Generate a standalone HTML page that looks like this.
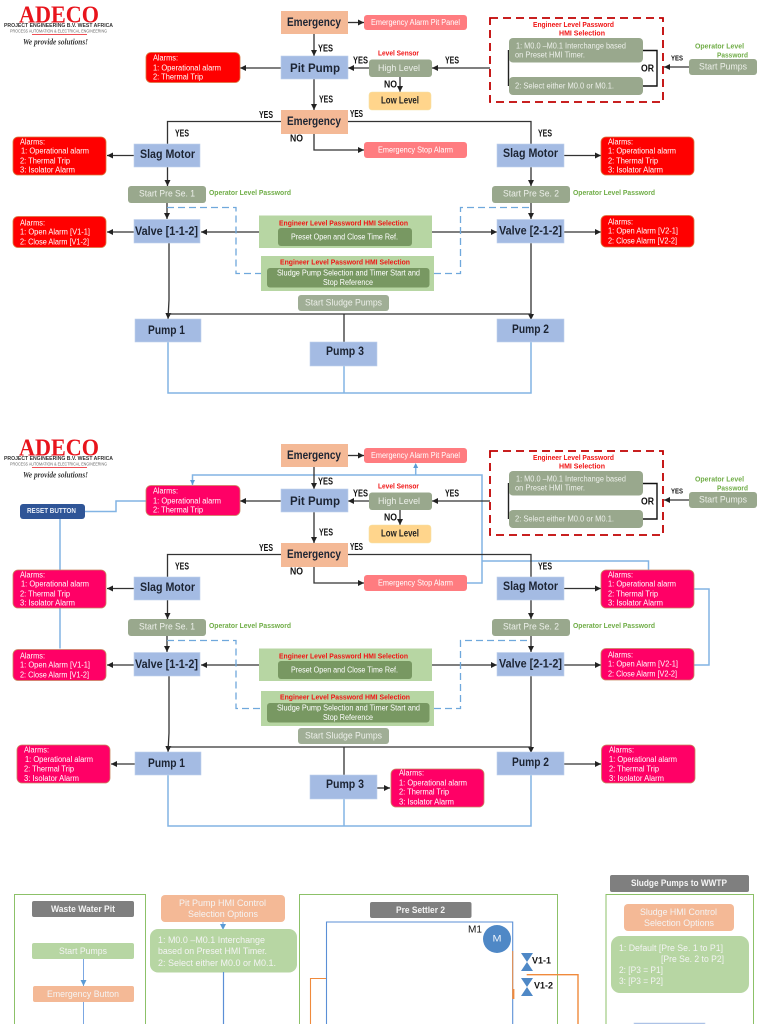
<!DOCTYPE html>
<html><head><meta charset="utf-8"><title>ADECO control flow</title>
<style>
html,body{margin:0;padding:0;background:#fff;width:768px;height:1024px;overflow:hidden}
svg{display:block;filter:blur(.25px)}
text{font-family:"Liberation Sans",sans-serif;dominant-baseline:central;white-space:pre}
.d{font-size:12px;font-weight:700;fill:#1c2433;text-anchor:start}
.a{font-size:8px;fill:#fff}
.g{font-size:9.5px;fill:#edf0ea}
.s{font-size:8px;fill:#edf0ea}
.y{font-size:10px;font-weight:700;fill:#111}
.rt{font-size:7.5px;font-weight:700;fill:#f01414}
.gt{font-size:7.5px;font-weight:700;fill:#70ad47}
.b{fill:#a4bbe3;stroke:#c2d1ec;stroke-width:.6}
.o{fill:#f4b996}
.gr{fill:#99a88d}
.lg{fill:#b7d6a3}
.dg{fill:#789862}
.gy{fill:#7f7f7f}
.w{font-size:9px;font-weight:700;fill:#f4f4f4}
.p{fill:#ff7c80}
.r{fill:#f00;stroke:#d9773f;stroke-width:.8}
.m{fill:#ff0066;stroke:#c9855f;stroke-width:.8}
.k{fill:none;stroke:#333;stroke-width:1.3}
.bl{fill:none;stroke:#82b4e4;stroke-width:1.5}
.bd{fill:none;stroke:#6fa8dc;stroke-width:1.3;stroke-dasharray:7 4}
.pn{fill:none;stroke:#8cc168;stroke-width:1}
.lo{font-family:"Liberation Serif",serif;font-size:24px;font-weight:700;fill:#e8141c}
</style></head><body>
<svg xmlns="http://www.w3.org/2000/svg" width="768" height="1024" viewBox="0 0 768 1024">
<defs>
<marker id="h" markerUnits="userSpaceOnUse" markerWidth="7" markerHeight="7" refX="6" refY="3" orient="auto"><path d="M0 0L6 3L0 6z" fill="#222"/></marker>
<marker id="bh" markerUnits="userSpaceOnUse" markerWidth="7" markerHeight="7" refX="6" refY="3" orient="auto"><path d="M0 0L6 3L0 6z" fill="#5b9bd5"/></marker>
</defs>

<!-- FLOW 1 -->
<g>
<text class="lo" x="19" y="15.5" textLength="80" lengthAdjust="spacingAndGlyphs">ADECO</text>
<text x="4" y="26" textLength="109" lengthAdjust="spacingAndGlyphs" style="font-size:5.5px;font-weight:700;fill:#333">PROJECT ENGINEERING B.V. WEST AFRICA</text>
<text x="10" y="31" textLength="97" lengthAdjust="spacingAndGlyphs" style="font-size:4.5px;fill:#666">PROCESS AUTOMATION &amp; ELECTRICAL ENGINEERING</text>
<path d="M32 34.5H87" stroke="#e8141c" stroke-width=".8"/>
<text x="23" y="42" textLength="65" lengthAdjust="spacingAndGlyphs" style="font-family:'Liberation Serif',serif;font-size:8px;font-style:italic;font-weight:700;fill:#333">We provide solutions!</text>

<path class="k" d="M348 22.5H364" marker-end="url(#h)"/>
<path class="k" d="M314 34V56" marker-end="url(#h)"/>
<path class="k" d="M281 68H240" marker-end="url(#h)"/>
<path class="k" d="M369 68H348" marker-end="url(#h)"/>
<path class="k" d="M400 77V92" marker-end="url(#h)"/>
<path class="k" d="M490 68H432" marker-end="url(#h)"/>
<path class="k" d="M689 67H664" marker-end="url(#h)"/>
<path class="k" d="M314 79V110" marker-end="url(#h)"/>
<path class="k" d="M281 121.5H167.5V144"/>
<path class="k" d="M348 121.5H531V144"/>
<path class="k" d="M314 134V150H364" marker-end="url(#h)"/>
<path class="k" d="M134 155.5H107" marker-end="url(#h)"/>
<path class="k" d="M564 155.5H601" marker-end="url(#h)"/>
<path class="k" d="M167.5 167V186" marker-end="url(#h)"/>
<path class="k" d="M531 167V186" marker-end="url(#h)"/>
<path class="k" d="M167 203V219" marker-end="url(#h)"/>
<path class="k" d="M531 203V219" marker-end="url(#h)"/>
<path class="k" d="M134 232H107" marker-end="url(#h)"/>
<path class="k" d="M564 232H601" marker-end="url(#h)"/>
<path class="k" d="M259 232H201" marker-end="url(#h)"/>
<path class="k" d="M432 232H497" marker-end="url(#h)"/>
<path class="k" d="M169 243V300L168 319" marker-end="url(#h)"/>
<path class="k" d="M531 243V320" marker-end="url(#h)"/>
<path class="k" d="M168 314H531"/>
<path class="k" d="M344 314V342"/>
<path class="bd" d="M167 207.5H236V273.5H261"/>
<path class="bd" d="M434 273.5H460.5V207.5H531"/>
<path class="bl" d="M168 342V393H531V342"/>
<path class="bl" d="M344 366V393"/>

<rect class="o" x="281" y="11" width="67" height="23"/><text class="d" x="287" y="22" textLength="54" lengthAdjust="spacingAndGlyphs">Emergency</text>
<rect class="p" x="364" y="15" width="103" height="15" rx="3"/><text class="a" x="371" y="22.5" textLength="89" lengthAdjust="spacingAndGlyphs">Emergency Alarm Pit Panel</text>
<text class="y" x="318" y="49" textLength="15" lengthAdjust="spacingAndGlyphs">YES</text>
<rect class="b" x="281" y="56" width="67" height="23"/><text class="d" x="290" y="68" textLength="50" lengthAdjust="spacingAndGlyphs">Pit Pump</text>
<rect class="r" x="146" y="52.5" width="94" height="30" rx="5"/>
<text class="a" x="153" y="58" textLength="25" lengthAdjust="spacingAndGlyphs">Alarms:</text>
<text class="a" x="153" y="68" textLength="68" lengthAdjust="spacingAndGlyphs">1: Operational alarm</text>
<text class="a" x="153" y="77" textLength="50" lengthAdjust="spacingAndGlyphs">2: Thermal Trip</text>
<text class="y" x="353" y="61" textLength="15" lengthAdjust="spacingAndGlyphs">YES</text>
<rect class="gr" x="369" y="59.5" width="63" height="17.5" rx="3"/><text class="g" x="378" y="68.5" textLength="42" lengthAdjust="spacingAndGlyphs">High Level</text>
<text class="rt" x="378" y="53" textLength="41" lengthAdjust="spacingAndGlyphs">Level Sensor</text>
<text class="y" x="384" y="85" textLength="13" lengthAdjust="spacingAndGlyphs">NO</text>
<rect x="369" y="92" width="62" height="18" rx="3" fill="#ffd58c" stroke="#f5e3a8" stroke-width=".6"/><text x="381" y="101" textLength="38" lengthAdjust="spacingAndGlyphs" style="font-size:10px;font-weight:700;fill:#222">Low Level</text>
<text class="y" x="445" y="61" textLength="14" lengthAdjust="spacingAndGlyphs">YES</text>
<rect x="490" y="18" width="173" height="84" fill="none" stroke="#c00000" stroke-width="1.8" stroke-dasharray="8 5"/>
<text class="rt" x="533" y="24.5" textLength="81" lengthAdjust="spacingAndGlyphs">Engineer Level Password</text>
<text class="rt" x="559" y="33" textLength="46" lengthAdjust="spacingAndGlyphs">HMI Selection</text>
<path d="M508.5 50V86" stroke="#222" stroke-width="1.4" fill="none"/>
<path d="M643 50.5H657V86H643" stroke="#111" stroke-width="1.4" fill="none"/>
<rect class="gr" x="509" y="38" width="134" height="24.5" rx="4"/>
<text class="s" x="516" y="46" textLength="110" lengthAdjust="spacingAndGlyphs">1: M0.0 –M0.1 Interchange based</text>
<text class="s" x="515" y="55" textLength="70" lengthAdjust="spacingAndGlyphs">on Preset HMI Timer.</text>
<rect class="gr" x="509" y="77" width="134" height="18" rx="4"/>
<text class="s" x="515" y="86" textLength="99" lengthAdjust="spacingAndGlyphs">2: Select either M0.0 or M0.1.</text>
<text class="y" x="641" y="69" textLength="13" lengthAdjust="spacingAndGlyphs">OR</text>
<text x="671" y="59" textLength="12" lengthAdjust="spacingAndGlyphs" style="font-size:7px;font-weight:700;fill:#111">YES</text>
<rect class="gr" x="689" y="59" width="68" height="16" rx="3"/><text class="g" x="699" y="67" textLength="48" lengthAdjust="spacingAndGlyphs">Start Pumps</text>
<text class="gt" x="695" y="46" textLength="49" lengthAdjust="spacingAndGlyphs">Operator Level</text>
<text class="gt" x="717" y="55" textLength="31" lengthAdjust="spacingAndGlyphs">Password</text>

<rect class="o" x="281" y="110" width="67" height="24"/><text class="d" x="287" y="121" textLength="54" lengthAdjust="spacingAndGlyphs">Emergency</text>
<text class="y" x="319" y="100" textLength="14" lengthAdjust="spacingAndGlyphs">YES</text>
<text class="y" x="259" y="115.5" textLength="14" lengthAdjust="spacingAndGlyphs">YES</text>
<text class="y" x="350" y="114.5" textLength="13" lengthAdjust="spacingAndGlyphs">YES</text>
<text class="y" x="175" y="134" textLength="14" lengthAdjust="spacingAndGlyphs">YES</text>
<text class="y" x="538" y="134" textLength="14" lengthAdjust="spacingAndGlyphs">YES</text>
<text class="y" x="290" y="139" textLength="13" lengthAdjust="spacingAndGlyphs">NO</text>
<rect class="p" x="364" y="142" width="103" height="16" rx="3"/><text class="a" x="378" y="150" textLength="75" lengthAdjust="spacingAndGlyphs">Emergency Stop Alarm</text>

<rect class="b" x="134" y="144" width="66" height="23"/><text class="d" x="140" y="154" textLength="55" lengthAdjust="spacingAndGlyphs">Slag Motor</text>
<rect class="r" x="13" y="137" width="93" height="38" rx="5"/>
<text class="a" x="20" y="142" textLength="25" lengthAdjust="spacingAndGlyphs">Alarms:</text>
<text class="a" x="21" y="151" textLength="68" lengthAdjust="spacingAndGlyphs">1: Operational alarm</text>
<text class="a" x="20" y="161" textLength="50" lengthAdjust="spacingAndGlyphs">2: Thermal Trip</text>
<text class="a" x="20" y="170" textLength="55" lengthAdjust="spacingAndGlyphs">3: Isolator Alarm</text>
<rect class="gr" x="128" y="186" width="78" height="17" rx="3"/><text class="g" x="139" y="194" textLength="56" lengthAdjust="spacingAndGlyphs">Start Pre Se. 1</text>
<text class="gt" x="209" y="192.5" textLength="82" lengthAdjust="spacingAndGlyphs">Operator Level Password</text>
<rect class="b" x="134" y="219.5" width="66" height="23.5"/><text class="d" x="135" y="231" textLength="63" lengthAdjust="spacingAndGlyphs">Valve [1-1-2]</text>
<rect class="r" x="13" y="216.5" width="93" height="31" rx="5"/>
<text class="a" x="20" y="223" textLength="25" lengthAdjust="spacingAndGlyphs">Alarms:</text>
<text class="a" x="20" y="232" textLength="70" lengthAdjust="spacingAndGlyphs">1: Open Alarm [V1-1]</text>
<text class="a" x="20" y="242" textLength="69" lengthAdjust="spacingAndGlyphs">2: Close Alarm [V1-2]</text>

<rect class="lg" x="259" y="215.5" width="173" height="32.5"/>
<text class="rt" x="279" y="223" textLength="129" lengthAdjust="spacingAndGlyphs">Engineer Level Password HMI Selection</text>
<rect class="dg" x="278" y="228" width="134" height="18" rx="3"/>
<text class="a" x="291" y="237" textLength="107" lengthAdjust="spacingAndGlyphs">Preset Open and Close Time Ref.</text>
<rect class="lg" x="261" y="256" width="173" height="35"/>
<text class="rt" x="280" y="262" textLength="130" lengthAdjust="spacingAndGlyphs">Engineer Level Password HMI Selection</text>
<rect class="dg" x="267" y="268" width="162.5" height="19.5" rx="3"/>
<text class="a" x="277" y="273" textLength="143" lengthAdjust="spacingAndGlyphs">Sludge Pump Selection and Timer Start and</text>
<text class="a" x="323" y="282.5" textLength="50" lengthAdjust="spacingAndGlyphs">Stop Reference</text>
<rect x="298" y="295" width="91" height="16" rx="3" fill="#a0ae96"/><text class="g" x="305" y="303" textLength="77" lengthAdjust="spacingAndGlyphs">Start Sludge Pumps</text>

<rect class="b" x="497" y="144" width="67" height="23"/><text class="d" x="503" y="153" textLength="55" lengthAdjust="spacingAndGlyphs">Slag Motor</text>
<rect class="r" x="601" y="137" width="93" height="38" rx="5"/>
<text class="a" x="608" y="142" textLength="25" lengthAdjust="spacingAndGlyphs">Alarms:</text>
<text class="a" x="608" y="151" textLength="68" lengthAdjust="spacingAndGlyphs">1: Operational alarm</text>
<text class="a" x="608" y="161" textLength="50" lengthAdjust="spacingAndGlyphs">2: Thermal Trip</text>
<text class="a" x="608" y="170" textLength="55" lengthAdjust="spacingAndGlyphs">3: Isolator Alarm</text>
<rect class="gr" x="492" y="186" width="78" height="17" rx="3"/><text class="g" x="503" y="194" textLength="56" lengthAdjust="spacingAndGlyphs">Start Pre Se. 2</text>
<text class="gt" x="573" y="192.5" textLength="82" lengthAdjust="spacingAndGlyphs">Operator Level Password</text>
<rect class="b" x="497" y="219.5" width="67" height="23.5"/><text class="d" x="499" y="230.5" textLength="63" lengthAdjust="spacingAndGlyphs">Valve [2-1-2]</text>
<rect class="r" x="601" y="215.5" width="93" height="31.5" rx="5"/>
<text class="a" x="608" y="222" textLength="25" lengthAdjust="spacingAndGlyphs">Alarms:</text>
<text class="a" x="608" y="231" textLength="70" lengthAdjust="spacingAndGlyphs">1: Open Alarm [V2-1]</text>
<text class="a" x="608" y="241" textLength="69" lengthAdjust="spacingAndGlyphs">2: Close Alarm [V2-2]</text>

<rect class="b" x="135" y="319" width="66" height="23"/><text class="d" x="148" y="330" textLength="37" lengthAdjust="spacingAndGlyphs">Pump 1</text>
<rect class="b" x="497" y="319" width="67" height="23"/><text class="d" x="512" y="329" textLength="37" lengthAdjust="spacingAndGlyphs">Pump 2</text>
<rect class="b" x="310" y="342" width="67" height="24"/><text class="d" x="326" y="351" textLength="38" lengthAdjust="spacingAndGlyphs">Pump 3</text>
</g>

<!-- FLOW 2 -->
<path class="bl" d="M146 501H116V511.5H85"/>
<path class="bl" d="M60 519V570M60 608V648.5"/>
<path class="bl" d="M192.5 485V475H482V583H467"/>
<path d="M192.5 485l-2.5-5h5z" fill="#5b9bd5"/>
<path class="bl" d="M415.7 475V464"/>
<path d="M415.7 463l-2.5 5h5z" fill="#5b9bd5"/>
<path class="bl" d="M482 561H648.5V570"/>
<path class="bl" d="M694 589H709V665H694"/>
<g transform="translate(0,433)">
<text class="lo" x="19" y="15.5" textLength="80" lengthAdjust="spacingAndGlyphs">ADECO</text>
<text x="4" y="26" textLength="109" lengthAdjust="spacingAndGlyphs" style="font-size:5.5px;font-weight:700;fill:#333">PROJECT ENGINEERING B.V. WEST AFRICA</text>
<text x="10" y="31" textLength="97" lengthAdjust="spacingAndGlyphs" style="font-size:4.5px;fill:#666">PROCESS AUTOMATION &amp; ELECTRICAL ENGINEERING</text>
<path d="M32 34.5H87" stroke="#e8141c" stroke-width=".8"/>
<text x="23" y="42" textLength="65" lengthAdjust="spacingAndGlyphs" style="font-family:'Liberation Serif',serif;font-size:8px;font-style:italic;font-weight:700;fill:#333">We provide solutions!</text>

<path class="k" d="M348 22.5H364" marker-end="url(#h)"/>
<path class="k" d="M314 34V56" marker-end="url(#h)"/>
<path class="k" d="M281 68H240" marker-end="url(#h)"/>
<path class="k" d="M369 68H348" marker-end="url(#h)"/>
<path class="k" d="M400 77V92" marker-end="url(#h)"/>
<path class="k" d="M490 68H432" marker-end="url(#h)"/>
<path class="k" d="M689 67H664" marker-end="url(#h)"/>
<path class="k" d="M314 79V110" marker-end="url(#h)"/>
<path class="k" d="M281 121.5H167.5V144"/>
<path class="k" d="M348 121.5H531V144"/>
<path class="k" d="M314 134V150H364" marker-end="url(#h)"/>
<path class="k" d="M134 155.5H107" marker-end="url(#h)"/>
<path class="k" d="M564 155.5H601" marker-end="url(#h)"/>
<path class="k" d="M167.5 167V186" marker-end="url(#h)"/>
<path class="k" d="M531 167V186" marker-end="url(#h)"/>
<path class="k" d="M167 203V219" marker-end="url(#h)"/>
<path class="k" d="M531 203V219" marker-end="url(#h)"/>
<path class="k" d="M134 232H107" marker-end="url(#h)"/>
<path class="k" d="M564 232H601" marker-end="url(#h)"/>
<path class="k" d="M259 232H201" marker-end="url(#h)"/>
<path class="k" d="M432 232H497" marker-end="url(#h)"/>
<path class="k" d="M169 243V300L168 319" marker-end="url(#h)"/>
<path class="k" d="M531 243V320" marker-end="url(#h)"/>
<path class="k" d="M168 314H531"/>
<path class="k" d="M344 314V342"/>
<path class="bd" d="M167 207.5H236V275.5H261"/>
<path class="bd" d="M434 275.5H460.5V207.5H531"/>
<path class="bl" d="M168 342V393H531V342"/>
<path class="bl" d="M344 366V393"/>
<path class="k" d="M135 331H111" marker-end="url(#h)"/>
<path class="k" d="M564 331H601" marker-end="url(#h)"/>
<path class="k" d="M377 355H390" marker-end="url(#h)"/>

<rect class="o" x="281" y="11" width="67" height="23"/><text class="d" x="287" y="22" textLength="54" lengthAdjust="spacingAndGlyphs">Emergency</text>
<rect class="p" x="364" y="15" width="103" height="15" rx="3"/><text class="a" x="371" y="22.5" textLength="89" lengthAdjust="spacingAndGlyphs">Emergency Alarm Pit Panel</text>
<text class="y" x="318" y="49" textLength="15" lengthAdjust="spacingAndGlyphs">YES</text>
<rect class="b" x="281" y="56" width="67" height="23"/><text class="d" x="290" y="68" textLength="50" lengthAdjust="spacingAndGlyphs">Pit Pump</text>
<rect class="m" x="146" y="52.5" width="94" height="30" rx="5"/>
<text class="a" x="153" y="58" textLength="25" lengthAdjust="spacingAndGlyphs">Alarms:</text>
<text class="a" x="153" y="68" textLength="68" lengthAdjust="spacingAndGlyphs">1: Operational alarm</text>
<text class="a" x="153" y="77" textLength="50" lengthAdjust="spacingAndGlyphs">2: Thermal Trip</text>
<text class="y" x="353" y="61" textLength="15" lengthAdjust="spacingAndGlyphs">YES</text>
<rect class="gr" x="369" y="59.5" width="63" height="17.5" rx="3"/><text class="g" x="378" y="68.5" textLength="42" lengthAdjust="spacingAndGlyphs">High Level</text>
<text class="rt" x="378" y="53" textLength="41" lengthAdjust="spacingAndGlyphs">Level Sensor</text>
<text class="y" x="384" y="85" textLength="13" lengthAdjust="spacingAndGlyphs">NO</text>
<rect x="369" y="92" width="62" height="18" rx="3" fill="#ffd58c" stroke="#f5e3a8" stroke-width=".6"/><text x="381" y="101" textLength="38" lengthAdjust="spacingAndGlyphs" style="font-size:10px;font-weight:700;fill:#222">Low Level</text>
<text class="y" x="445" y="61" textLength="14" lengthAdjust="spacingAndGlyphs">YES</text>
<rect x="490" y="18" width="173" height="84" fill="none" stroke="#c00000" stroke-width="1.8" stroke-dasharray="8 5"/>
<text class="rt" x="533" y="24.5" textLength="81" lengthAdjust="spacingAndGlyphs">Engineer Level Password</text>
<text class="rt" x="559" y="33" textLength="46" lengthAdjust="spacingAndGlyphs">HMI Selection</text>
<path d="M508.5 50V86" stroke="#222" stroke-width="1.4" fill="none"/>
<path d="M643 50.5H657V86H643" stroke="#111" stroke-width="1.4" fill="none"/>
<rect class="gr" x="509" y="38" width="134" height="24.5" rx="4"/>
<text class="s" x="516" y="46" textLength="110" lengthAdjust="spacingAndGlyphs">1: M0.0 –M0.1 Interchange based</text>
<text class="s" x="515" y="55" textLength="70" lengthAdjust="spacingAndGlyphs">on Preset HMI Timer.</text>
<rect class="gr" x="509" y="77" width="134" height="18" rx="4"/>
<text class="s" x="515" y="86" textLength="99" lengthAdjust="spacingAndGlyphs">2: Select either M0.0 or M0.1.</text>
<text class="y" x="641" y="69" textLength="13" lengthAdjust="spacingAndGlyphs">OR</text>
<text x="671" y="59" textLength="12" lengthAdjust="spacingAndGlyphs" style="font-size:7px;font-weight:700;fill:#111">YES</text>
<rect class="gr" x="689" y="59" width="68" height="16" rx="3"/><text class="g" x="699" y="67" textLength="48" lengthAdjust="spacingAndGlyphs">Start Pumps</text>
<text class="gt" x="695" y="46" textLength="49" lengthAdjust="spacingAndGlyphs">Operator Level</text>
<text class="gt" x="717" y="55" textLength="31" lengthAdjust="spacingAndGlyphs">Password</text>

<rect class="o" x="281" y="110" width="67" height="24"/><text class="d" x="287" y="121" textLength="54" lengthAdjust="spacingAndGlyphs">Emergency</text>
<text class="y" x="319" y="100" textLength="14" lengthAdjust="spacingAndGlyphs">YES</text>
<text class="y" x="259" y="115.5" textLength="14" lengthAdjust="spacingAndGlyphs">YES</text>
<text class="y" x="350" y="114.5" textLength="13" lengthAdjust="spacingAndGlyphs">YES</text>
<text class="y" x="175" y="134" textLength="14" lengthAdjust="spacingAndGlyphs">YES</text>
<text class="y" x="538" y="134" textLength="14" lengthAdjust="spacingAndGlyphs">YES</text>
<text class="y" x="290" y="139" textLength="13" lengthAdjust="spacingAndGlyphs">NO</text>
<rect class="p" x="364" y="142" width="103" height="16" rx="3"/><text class="a" x="378" y="150" textLength="75" lengthAdjust="spacingAndGlyphs">Emergency Stop Alarm</text>

<rect class="b" x="134" y="144" width="66" height="23"/><text class="d" x="140" y="154" textLength="55" lengthAdjust="spacingAndGlyphs">Slag Motor</text>
<rect class="m" x="13" y="137" width="93" height="38" rx="5"/>
<text class="a" x="20" y="142" textLength="25" lengthAdjust="spacingAndGlyphs">Alarms:</text>
<text class="a" x="21" y="151" textLength="68" lengthAdjust="spacingAndGlyphs">1: Operational alarm</text>
<text class="a" x="20" y="161" textLength="50" lengthAdjust="spacingAndGlyphs">2: Thermal Trip</text>
<text class="a" x="20" y="170" textLength="55" lengthAdjust="spacingAndGlyphs">3: Isolator Alarm</text>
<rect class="gr" x="128" y="186" width="78" height="17" rx="3"/><text class="g" x="139" y="194" textLength="56" lengthAdjust="spacingAndGlyphs">Start Pre Se. 1</text>
<text class="gt" x="209" y="192.5" textLength="82" lengthAdjust="spacingAndGlyphs">Operator Level Password</text>
<rect class="b" x="134" y="219.5" width="66" height="23.5"/><text class="d" x="135" y="231" textLength="63" lengthAdjust="spacingAndGlyphs">Valve [1-1-2]</text>
<rect class="m" x="13" y="216.5" width="93" height="31" rx="5"/>
<text class="a" x="20" y="223" textLength="25" lengthAdjust="spacingAndGlyphs">Alarms:</text>
<text class="a" x="20" y="232" textLength="70" lengthAdjust="spacingAndGlyphs">1: Open Alarm [V1-1]</text>
<text class="a" x="20" y="242" textLength="69" lengthAdjust="spacingAndGlyphs">2: Close Alarm [V1-2]</text>

<rect class="lg" x="259" y="215.5" width="173" height="32.5"/>
<text class="rt" x="279" y="223" textLength="129" lengthAdjust="spacingAndGlyphs">Engineer Level Password HMI Selection</text>
<rect class="dg" x="278" y="228" width="134" height="18" rx="3"/>
<text class="a" x="291" y="237" textLength="107" lengthAdjust="spacingAndGlyphs">Preset Open and Close Time Ref.</text>
<rect class="lg" x="261" y="258" width="173" height="35"/>
<text class="rt" x="280" y="264" textLength="130" lengthAdjust="spacingAndGlyphs">Engineer Level Password HMI Selection</text>
<rect class="dg" x="267" y="270" width="162.5" height="19.5" rx="3"/>
<text class="a" x="277" y="275" textLength="143" lengthAdjust="spacingAndGlyphs">Sludge Pump Selection and Timer Start and</text>
<text class="a" x="323" y="284.5" textLength="50" lengthAdjust="spacingAndGlyphs">Stop Reference</text>
<rect x="298" y="295" width="91" height="16" rx="3" fill="#a0ae96"/><text class="g" x="305" y="303" textLength="77" lengthAdjust="spacingAndGlyphs">Start Sludge Pumps</text>

<rect class="b" x="497" y="144" width="67" height="23"/><text class="d" x="503" y="153" textLength="55" lengthAdjust="spacingAndGlyphs">Slag Motor</text>
<rect class="m" x="601" y="137" width="93" height="38" rx="5"/>
<text class="a" x="608" y="142" textLength="25" lengthAdjust="spacingAndGlyphs">Alarms:</text>
<text class="a" x="608" y="151" textLength="68" lengthAdjust="spacingAndGlyphs">1: Operational alarm</text>
<text class="a" x="608" y="161" textLength="50" lengthAdjust="spacingAndGlyphs">2: Thermal Trip</text>
<text class="a" x="608" y="170" textLength="55" lengthAdjust="spacingAndGlyphs">3: Isolator Alarm</text>
<rect class="gr" x="492" y="186" width="78" height="17" rx="3"/><text class="g" x="503" y="194" textLength="56" lengthAdjust="spacingAndGlyphs">Start Pre Se. 2</text>
<text class="gt" x="573" y="192.5" textLength="82" lengthAdjust="spacingAndGlyphs">Operator Level Password</text>
<rect class="b" x="497" y="219.5" width="67" height="23.5"/><text class="d" x="499" y="230.5" textLength="63" lengthAdjust="spacingAndGlyphs">Valve [2-1-2]</text>
<rect class="m" x="601" y="215.5" width="93" height="31.5" rx="5"/>
<text class="a" x="608" y="222" textLength="25" lengthAdjust="spacingAndGlyphs">Alarms:</text>
<text class="a" x="608" y="231" textLength="70" lengthAdjust="spacingAndGlyphs">1: Open Alarm [V2-1]</text>
<text class="a" x="608" y="241" textLength="69" lengthAdjust="spacingAndGlyphs">2: Close Alarm [V2-2]</text>

<rect class="b" x="135" y="319" width="66" height="23"/><text class="d" x="148" y="330" textLength="37" lengthAdjust="spacingAndGlyphs">Pump 1</text>
<rect class="b" x="497" y="319" width="67" height="23"/><text class="d" x="512" y="329" textLength="37" lengthAdjust="spacingAndGlyphs">Pump 2</text>
<rect class="b" x="310" y="342" width="67" height="24"/><text class="d" x="326" y="351" textLength="38" lengthAdjust="spacingAndGlyphs">Pump 3</text>

<rect class="m" x="17" y="312" width="93" height="38" rx="5"/>
<text class="a" x="24" y="317" textLength="25" lengthAdjust="spacingAndGlyphs">Alarms:</text>
<text class="a" x="25" y="326.5" textLength="68" lengthAdjust="spacingAndGlyphs">1: Operational alarm</text>
<text class="a" x="24" y="336" textLength="50" lengthAdjust="spacingAndGlyphs">2: Thermal Trip</text>
<text class="a" x="24" y="345.5" textLength="55" lengthAdjust="spacingAndGlyphs">3: Isolator Alarm</text>
<rect class="m" x="601.5" y="312" width="93.5" height="38" rx="5"/>
<text class="a" x="609" y="317" textLength="25" lengthAdjust="spacingAndGlyphs">Alarms:</text>
<text class="a" x="609" y="326.5" textLength="68" lengthAdjust="spacingAndGlyphs">1: Operational alarm</text>
<text class="a" x="609" y="336" textLength="50" lengthAdjust="spacingAndGlyphs">2: Thermal Trip</text>
<text class="a" x="609" y="345.5" textLength="55" lengthAdjust="spacingAndGlyphs">3: Isolator Alarm</text>
<rect class="m" x="391" y="336" width="93" height="38" rx="5"/>
<text class="a" x="399" y="340" textLength="25" lengthAdjust="spacingAndGlyphs">Alarms:</text>
<text class="a" x="399" y="350" textLength="68" lengthAdjust="spacingAndGlyphs">1: Operational alarm</text>
<text class="a" x="399" y="359" textLength="50" lengthAdjust="spacingAndGlyphs">2: Thermal Trip</text>
<text class="a" x="399" y="369" textLength="55" lengthAdjust="spacingAndGlyphs">3: Isolator Alarm</text>
</g>
<rect x="20" y="504" width="65" height="15" rx="3" fill="#2f5597"/>
<text x="27" y="511.5" textLength="49" lengthAdjust="spacingAndGlyphs" style="font-size:7px;font-weight:700;fill:#e8eef8">RESET BUTTON</text>

<!-- BOTTOM -->
<rect class="pn" x="14.5" y="894.5" width="131" height="140"/>
<rect class="gy" x="32" y="901" width="102" height="16" rx="2"/><text class="w" x="51" y="909" textLength="64" lengthAdjust="spacingAndGlyphs">Waste Water Pit</text>
<rect class="lg" x="32" y="943" width="102" height="16" rx="2"/><text class="w" x="59" y="951" textLength="48" lengthAdjust="spacingAndGlyphs" style="font-weight:400">Start Pumps</text>
<path d="M83.5 959V986" stroke="#6d9edf" stroke-width=".9" fill="none" marker-end="url(#bh)"/>
<rect class="o" x="33" y="986" width="101" height="16" rx="2"/><text class="w" x="47" y="994" textLength="72" lengthAdjust="spacingAndGlyphs" style="font-weight:400">Emergency Button</text>
<path d="M83.5 1002V1024" stroke="#6d9edf" stroke-width=".9"/>

<rect class="o" x="161" y="895" width="124" height="27" rx="4"/>
<text class="w" x="179" y="903" textLength="87" lengthAdjust="spacingAndGlyphs" style="font-weight:400">Pit Pump HMI Control</text>
<text class="w" x="188" y="914" textLength="70" lengthAdjust="spacingAndGlyphs" style="font-weight:400">Selection Options</text>
<path d="M223 922V930" stroke="#6d9edf" stroke-width="1" marker-end="url(#bh)"/>
<rect class="lg" x="150" y="929" width="147" height="43.5" rx="8"/>
<text class="w" x="158" y="940" textLength="107" lengthAdjust="spacingAndGlyphs" style="font-weight:400">1: M0.0 –M0.1 Interchange</text>
<text class="w" x="158" y="951" textLength="109" lengthAdjust="spacingAndGlyphs" style="font-weight:400">based on Preset HMI Timer.</text>
<text class="w" x="158" y="963" textLength="118" lengthAdjust="spacingAndGlyphs" style="font-weight:400">2: Select either M0.0 or M0.1.</text>
<path d="M223.5 972V1024" stroke="#5b8fd6" stroke-width="1.2"/>

<rect class="pn" x="299.5" y="894.5" width="258" height="140"/>
<rect class="gy" x="370" y="902" width="101.5" height="16" rx="2"/><text class="w" x="396" y="910" textLength="49" lengthAdjust="spacingAndGlyphs">Pre Settler 2</text>
<path d="M326.5 1024V922H512.7V1024" fill="none" stroke="#5b8fd6" stroke-width="1.1"/>
<path d="M326 978.5H310.5V1024" fill="none" stroke="#f08a3c" stroke-width="1.1"/>
<path d="M512.7 951V999" stroke="#f08a3c" stroke-width="1"/>
<path d="M513.5 989V999" stroke="#f08a3c" stroke-width="1.8"/>
<circle cx="497" cy="939" r="14" fill="#4f88c6"/>
<text x="492.5" y="938.5" textLength="9" lengthAdjust="spacingAndGlyphs" style="font-size:9px;fill:#eaf2fb">M</text>
<text x="468" y="930" textLength="14" lengthAdjust="spacingAndGlyphs" style="font-size:10px;fill:#111">M1</text>
<path d="M521 953H533L527 962L533 971H521L527 962z" fill="#4f88c6"/>
<text x="532" y="961" textLength="19" lengthAdjust="spacingAndGlyphs" style="font-size:9.5px;font-weight:700;fill:#111">V1-1</text>
<path d="M521 978H533L527 987L533 996H521L527 987z" fill="#4f88c6"/>
<text x="534" y="986" textLength="19" lengthAdjust="spacingAndGlyphs" style="font-size:9.5px;font-weight:700;fill:#111">V1-2</text>
<path d="M526.7 974.7H578V1024" fill="none" stroke="#f08a3c" stroke-width="1.4"/>

<rect class="gy" x="610" y="875" width="139" height="17" rx="2"/><text class="w" x="631" y="883" textLength="96" lengthAdjust="spacingAndGlyphs">Sludge Pumps to WWTP</text>
<rect class="pn" x="606" y="894.5" width="147.5" height="140"/>
<rect class="o" x="624" y="904" width="110" height="27" rx="4"/>
<text class="w" x="640" y="912" textLength="77" lengthAdjust="spacingAndGlyphs" style="font-weight:400">Sludge HMI Control</text>
<text class="w" x="644" y="923" textLength="70" lengthAdjust="spacingAndGlyphs" style="font-weight:400">Selection Options</text>
<rect class="lg" x="611" y="936" width="138" height="57" rx="9"/>
<text class="w" x="619" y="948" textLength="104" lengthAdjust="spacingAndGlyphs" style="font-weight:400">1: Default [Pre Se. 1 to P1]</text>
<text class="w" x="661" y="959" textLength="63" lengthAdjust="spacingAndGlyphs" style="font-weight:400">[Pre Se. 2 to P2]</text>
<text class="w" x="619" y="970" textLength="44" lengthAdjust="spacingAndGlyphs" style="font-weight:400">2: [P3 = P1]</text>
<text class="w" x="619" y="981" textLength="44" lengthAdjust="spacingAndGlyphs" style="font-weight:400">3: [P3 = P2]</text>
<rect class="b" x="634" y="1023" width="71" height="6"/>
</svg>
</body></html>
